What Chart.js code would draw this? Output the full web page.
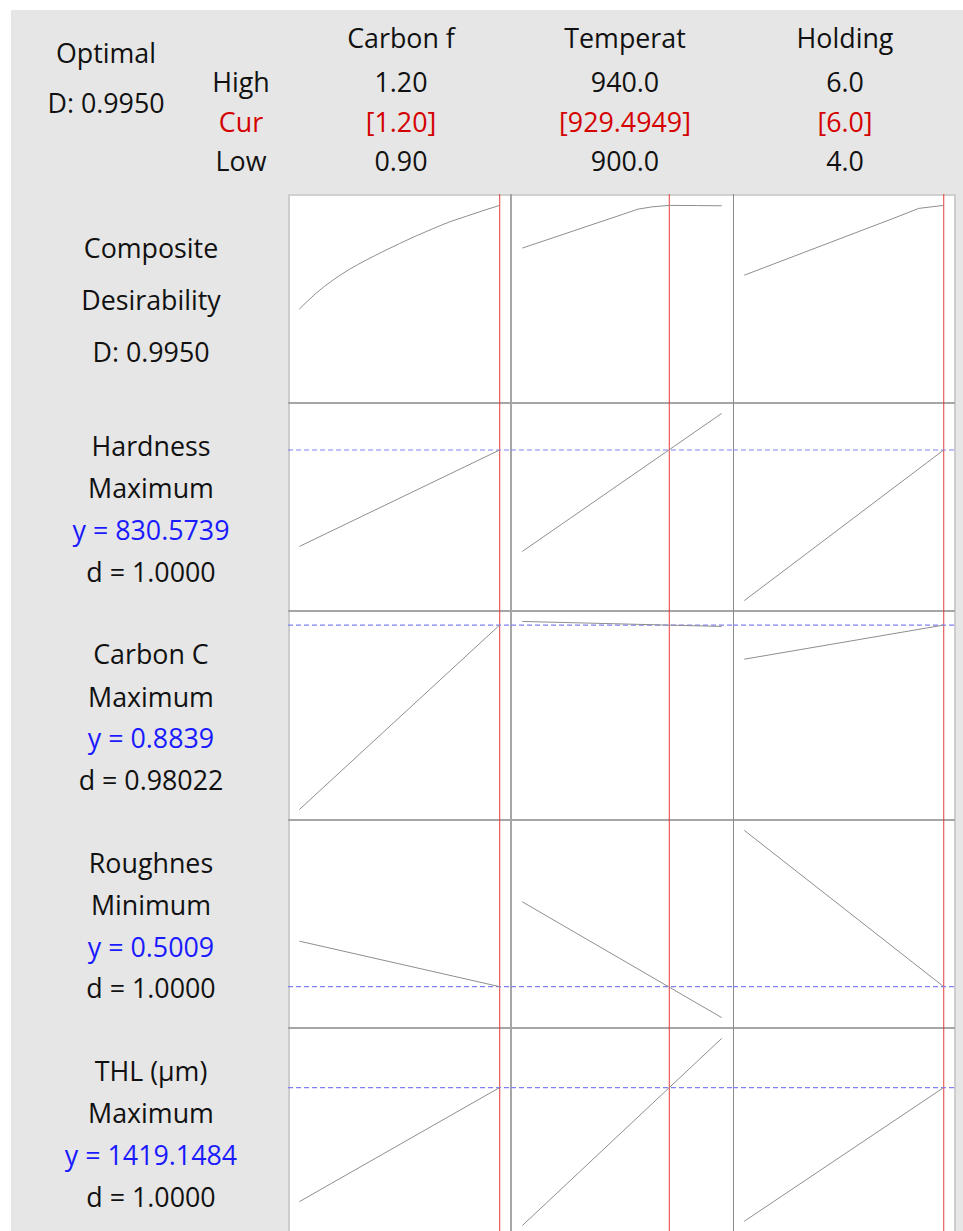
<!DOCTYPE html>
<html><head><meta charset="utf-8">
<script src="https://cdn.jsdelivr.net/npm/chart.js@4.4.0/dist/chart.umd.min.js"></script>
<style>
html,body{margin:0;padding:0;background:#fff;width:963px;height:1231px;overflow:hidden;}
#bg{position:absolute;left:11px;top:10px;width:952px;height:1230px;background:#e6e6e6;}
.t{position:absolute;font-family:"Open Sans","Noto Sans",sans-serif;font-size:26.8px;line-height:26.8px;white-space:nowrap;color:#111;transform:translateX(-50%);}
#grid{position:absolute;left:288px;top:194px;width:667px;height:1042px;background:#fff;}
#grid canvas{position:absolute;}
.ln{position:absolute;}
</style></head>
<body>
<div id="bg"></div>
<div id="grid"></div>
<script>
// ---- factors ----
const factorNames = ["Carbon f", "Temperat", "Holding"];
const factorHigh = [1.20, 940.0, 6.0];
const factorLow = [0.90, 900.0, 4.0];
const factorCur = [1.20, 929.4949, 6.0];
const highLabels = ["1.20", "940.0", "6.0"];
const curLabels = ["[1.20]", "[929.4949]", "[6.0]"];
const lowLabels = ["0.90", "900.0", "4.0"];
const optimalD = "D: 0.9950";

// ---- responses ----
const responseNames = ["Hardness", "Carbon C", "Roughnes", "THL (µm)"];
const responseGoals = ["Maximum", "Maximum", "Minimum", "Maximum"];
const responseY = [830.5739, 0.8839, 0.5009, 1419.1484];
const responseYLabels = ["y = 830.5739", "y = 0.8839", "y = 0.5009", "y = 1419.1484"];
const responseDLabels = ["d = 1.0000", "d = 0.98022", "d = 1.0000", "d = 1.0000"];

// ---- x grids for each factor ----
const carbonX = [0.900, 0.925, 0.950, 0.975, 1.000, 1.025, 1.050, 1.075, 1.100, 1.125, 1.150, 1.175, 1.200];
const tempX = [900, 910, 920, 923.2, 926, 929.4949, 935, 940];
const holdX = [4.0, 4.5, 5.0, 5.5, 5.75, 6.0];
const lineCarbonX = [0.90, 1.20];
const lineTempX = [900, 940];
const lineHoldX = [4.0, 6.0];

// ---- composite desirability curves ----
const compCarbon = [0.444, 0.528, 0.597, 0.655, 0.704, 0.749, 0.792, 0.833, 0.871, 0.907, 0.937, 0.967, 0.995];
const compTemp = [0.768, 0.857, 0.946, 0.975, 0.987, 0.995, 0.994, 0.993];
const compHold = [0.624, 0.725, 0.826, 0.927, 0.979, 0.995];

// ---- response curves (values at low/high of each factor) ----
const hardCarbon = [714.9, 830.57];
const hardTemp = [708.95, 874.45];
const hardHold = [650.0, 830.57];
const carbCCarbon = [0.6000, 0.8839];
const carbCTemp = [0.8895, 0.8818];
const carbCHold = [0.8314, 0.8839];
const roughCarbon = [0.5758, 0.5009];
const roughTemp = [0.6405, 0.4500];
const roughHold = [0.7580, 0.5009];
const thlCarbon = [1196.7, 1419.15];
const thlTemp = [1150.0, 1515.0];
const thlHold = [1158.5, 1419.15];

// ---- build rows ----
const rows = [
  {curves: [[carbonX, compCarbon, true], [tempX, compTemp], [holdX, compHold]], cur: null, range: [0, 1]},
  {curves: [[lineCarbonX, hardCarbon], [lineTempX, hardTemp], [lineHoldX, hardHold]], cur: responseY[0]},
  {curves: [[lineCarbonX, carbCCarbon], [lineTempX, carbCTemp], [lineHoldX, carbCHold]], cur: responseY[1]},
  {curves: [[lineCarbonX, roughCarbon], [lineTempX, roughTemp], [lineHoldX, roughHold]], cur: responseY[2]},
  {curves: [[lineCarbonX, thlCarbon], [lineTempX, thlTemp], [lineHoldX, thlHold]], cur: responseY[3]}
];

const colEdges = [288, 511, 733, 955];
const rowEdges = [194, 403, 611, 820, 1028, 1236];
const padX = 0.0567, padY = 0.0555;
const FS = 26.8, BASE = 0.888 * FS;

function addText(txt, cx, baseline, color) {
  const d = document.createElement('div');
  d.className = 't';
  d.textContent = txt;
  d.style.left = cx + 'px';
  d.style.top = (baseline - BASE) + 'px';
  if (color) d.style.color = color;
  document.body.appendChild(d);
}

// header
addText("Optimal", 106, 63.3);
addText(optimalD, 106, 114);
addText("High", 241, 92.7);
addText("Cur", 241, 132.7, "#d40000");
addText("Low", 241, 171.7);
const hdrX = [401, 625, 845];
for (let j = 0; j < 3; j++) {
  addText(factorNames[j], hdrX[j], 48.3);
  addText(highLabels[j], hdrX[j], 92.7);
  addText(curLabels[j], hdrX[j], 132.7, "#d40000");
  addText(lowLabels[j], hdrX[j], 171.7);
}
// left labels
addText("Composite", 151, 258.3);
addText("Desirability", 151, 310.7);
addText(optimalD, 151, 362.7);
const rowTopsF = [402.7, 611.1, 819.5, 1027.9];
for (let i = 0; i < 4; i++) {
  const t = rowTopsF[i];
  addText(responseNames[i], 151, t + 54);
  addText(responseGoals[i], 151, t + 96.3);
  addText(responseYLabels[i], 151, t + 137.8, "#1a1aff");
  addText(responseDLabels[i], 151, t + 179.6);
}

// grid lines
const grid = document.getElementById('grid');
function addLine(x, y, w, h, c) {
  const d = document.createElement('div');
  d.className = 'ln';
  d.style.left = (x - 288) + 'px'; d.style.top = (y - 194) + 'px';
  d.style.width = w + 'px'; d.style.height = h + 'px'; d.style.background = c;
  grid.appendChild(d);
}
addLine(288, 194, 2, 1042, '#cdcdcd');
addLine(954, 194, 2, 1042, '#cdcdcd');
addLine(288, 194, 667, 2, '#d0d0d0');
for (let i = 1; i < 5; i++) addLine(288, rowEdges[i] - 1, 667, 2, '#a6a6a6');
addLine(510, 194, 2, 1042, '#a6a6a6');
addLine(733, 194, 1, 1042, '#8a8a8a');

// charts
for (let i = 0; i < rows.length; i++) {
  const row = rows[i];
  let lo, hi;
  if (row.range) { lo = row.range[0]; hi = row.range[1]; }
  else {
    const all = row.curves.flatMap(c => c[1]);
    lo = Math.min(...all); hi = Math.max(...all);
  }
  const yMin = lo - padY * (hi - lo), yMax = hi + padY * (hi - lo);
  for (let j = 0; j < 3; j++) {
    const cv = document.createElement('canvas');
    const w = colEdges[j + 1] - colEdges[j], h = rowEdges[i + 1] - rowEdges[i];
    cv.width = w; cv.height = h;
    cv.style.left = (colEdges[j] - 288) + 'px';
    cv.style.top = (rowEdges[i] - 194) + 'px';
    cv.style.width = w + 'px'; cv.style.height = h + 'px';
    grid.appendChild(cv);
    const r = factorHigh[j] - factorLow[j];
    const xMin = factorLow[j] - padX * r, xMax = factorHigh[j] + padX * r;
    const [xs, ys, smooth] = row.curves[j];
    const curve = {data: xs.map((x, k) => ({x: x, y: ys[k]})), showLine: true, borderColor: '#8e8e8e', borderWidth: 1, pointRadius: 0, tension: 0, order: 1};
    if (smooth) curve.cubicInterpolationMode = 'monotone';
    const datasets = [
      curve,
      {data: [{x: factorCur[j], y: yMin}, {x: factorCur[j], y: yMax}], showLine: true, borderColor: 'rgba(232,50,50,0.8)', borderWidth: 1.2, pointRadius: 0, order: 3}
    ];
    if (row.cur !== null) {
      datasets.push({data: [{x: xMin, y: row.cur}, {x: xMax, y: row.cur}], showLine: true, borderColor: '#8080f4', borderWidth: 1.2, borderDash: [5, 3], pointRadius: 0, order: 2});
    }
    new Chart(cv, {
      type: 'scatter',
      data: {datasets: datasets},
      options: {
        responsive: false, animation: false, events: [],
        layout: {padding: 0},
        plugins: {legend: {display: false}, tooltip: {enabled: false}},
        scales: {
          x: {type: 'linear', display: false, min: xMin, max: xMax},
          y: {type: 'linear', display: false, min: yMin, max: yMax}
        }
      }
    });
  }
}
</script>
</body></html>
